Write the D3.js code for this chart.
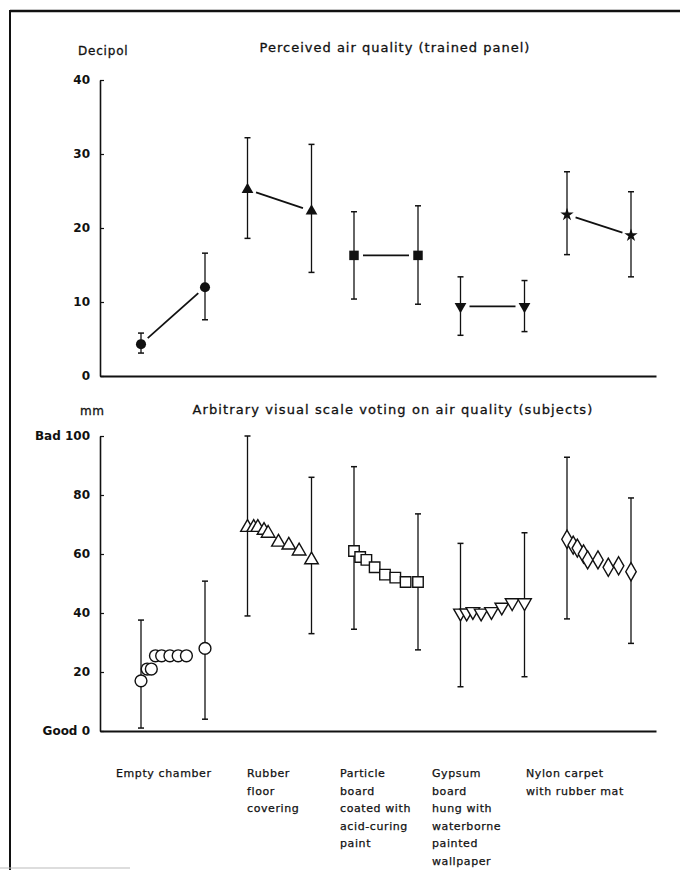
<!DOCTYPE html>
<html>
<head>
<meta charset="utf-8">
<script src="https://cdn.jsdelivr.net/npm/d3@7"></script>
<style>
  body { margin: 0; background: #fff; }
  svg text { font-family: "DejaVu Sans", sans-serif; fill: #111; }
</style>
</head>
<body>
<svg id="chart" width="680" height="879"></svg>
<script>
// Materials tested in the chamber
var categories = ["Empty chamber", "Rubber floor covering", "Particle board coated with acid-curing paint",
                  "Gypsum board hung with waterborne painted wallpaper", "Nylon carpet with rubber mat"];
var categoryLines = [["Empty chamber"], ["Rubber", "floor", "covering"],
                     ["Particle", "board", "coated with", "acid-curing", "paint"],
                     ["Gypsum", "board", "hung with", "waterborne", "painted", "wallpaper"],
                     ["Nylon carpet", "with rubber mat"]];

// Trained panel, decipol (first and last session)
var panelTimes = [0, 31];
var panelMean = [[4.3, 12.0], [25.2, 22.3], [16.3, 16.3], [9.4, 9.4], [21.8, 19.0]];
var panelLow  = [[3.1, 7.6], [18.6, 14.0], [10.4, 9.7], [5.5, 6.0], [16.4, 13.4]];
var panelHigh = [[5.8, 16.6], [32.2, 31.3], [22.2, 23.0], [13.4, 12.9], [27.6, 24.9]];

// Subjects, visual scale in mm
var voteTimes = [[0, 3, 5, 7, 10, 14, 18, 22, 31],
                 [0, 3, 5, 8, 10, 15, 20, 25, 31],
                 [0, 3, 6, 10, 15, 20, 25, 31],
                 [0, 3, 6, 10, 15, 20, 25, 31],
                 [0, 3, 5, 8, 10, 15, 20, 25, 31]];
var voteValues = [[17, 21, 21, 25.5, 25.5, 25.5, 25.5, 25.5, 28],
                  [69, 69, 69, 68, 67, 64, 63, 61, 58],
                  [61, 59, 58, 55.5, 53, 52, 50.5, 50.5],
                  [40, 40, 40.5, 40, 40.5, 42, 43.5, 43.5],
                  [65, 63, 62, 60, 58, 58, 55.5, 56, 54]];
var voteLow  = [[1, 4], [39, 33], [34.5, 27.5], [15, 18.4], [38, 29.7]];
var voteHigh = [[37.6, 50.8], [100, 86], [89.6, 73.6], [63.6, 67.2], [92.8, 79]];

var panelTicks = [0, 10, 20, 30, 40];
var voteTicks = [0, 20, 40, 60, 80, 100];
var voteTickLabels = ["Good 0", "20", "40", "60", "80", "Bad 100"];

var svg = d3.select("#chart");
var ink = "#111";

//Frame of the scanned figure
svg.append("line").attr("x1", 10).attr("y1", 11).attr("x2", 680).attr("y2", 11)
   .attr("stroke", ink).attr("stroke-width", 2.5);
svg.append("line").attr("x1", 10).attr("y1", 10).attr("x2", 10).attr("y2", 870)
   .attr("stroke", ink).attr("stroke-width", 2);
svg.append("line").attr("x1", 0).attr("y1", 868).attr("x2", 130).attr("y2", 868)
   .attr("stroke", "#bbb").attr("stroke-width", 1);

//Scales
var groupX = d3.scaleBand().domain(categories).range([141, 141 + 5 * 106.5]);
var timeX = d3.scaleLinear().domain([0, 31]).range([0, 64]);
var axisX = d3.scaleLinear().range([100, 656]);
var yTop = d3.scaleLinear().domain([0, 40]).range([376, 80]);
var yBot = d3.scaleLinear().domain([0, 100]).range([731, 436]);
var labelX = d3.scaleOrdinal().domain(categories).range([116, 247, 340, 432, 526]);

function px(i, t) { return groupX(categories[i]) + timeX(t); }

var filledShapes = [d3.symbolCircle, d3.symbolTriangle, d3.symbolSquare, d3.symbolTriangle, d3.symbolStar];
var filledSizes = [80, 60, 90, 60, 55];
var openShapes = [d3.symbolCircle, d3.symbolTriangle, d3.symbolSquare, d3.symbolTriangle, d3.symbolDiamond];
var openSizes = [110, 80, 110, 80, 95];
var flipped = [false, false, false, true, false];

//Draws one panel's y axis
function drawYAxis(scale, ticks, fmt) {
  var axis = d3.axisLeft(scale).tickValues(ticks).tickSizeInner(-4).tickSizeOuter(0)
               .tickPadding(10).tickFormat(fmt);
  var g = svg.append("g").attr("transform", "translate(100,0)").call(axis);
  g.select(".domain").attr("stroke", ink).attr("stroke-width", 1.6);
  g.selectAll(".tick line").attr("stroke", ink).attr("stroke-width", 1.2);
  g.selectAll(".tick text").style("font-size", "12px").style("font-weight", "bold")
   .style("font-family", "DejaVu Sans, sans-serif").attr("fill", ink);
  return g;
}

function drawXAxis(y) {
  var g = svg.append("g").attr("transform", "translate(0," + y + ")")
             .call(d3.axisBottom(axisX).tickValues([]).tickSizeOuter(0));
  g.select(".domain").attr("stroke", ink).attr("stroke-width", 2);
}

drawYAxis(yTop, panelTicks, d3.format("d"));
drawXAxis(376);
drawYAxis(yBot, voteTicks, function(d, i) { return voteTickLabels[i]; });
drawXAxis(731);

//Titles
function label(x, y, txt, anchor, size, spacing) {
  svg.append("text").attr("x", x).attr("y", y).attr("text-anchor", anchor || "start")
     .style("font-size", (size || 12) + "px").style("letter-spacing", (spacing || 0) + "px")
     .style("stroke", ink).style("stroke-width", 0.3).text(txt);
}
label(78, 55, "Decipol", "start", 12, 0.8);
label(395, 52, "Perceived air quality (trained panel)", "middle", 13, 1.0);
label(80, 415, "mm", "start", 12, 0.5);
label(393, 414, "Arbitrary visual scale voting on air quality (subjects)", "middle", 13, 1.1);

//Error bar with caps
function errorBar(g, x, y1, y2) {
  g.append("line").attr("x1", x).attr("x2", x).attr("y1", y1).attr("y2", y2)
   .attr("stroke", ink).attr("stroke-width", 1.3);
  [y1, y2].forEach(function(y) {
    g.append("line").attr("x1", x - 3).attr("x2", x + 3).attr("y1", y).attr("y2", y)
     .attr("stroke", ink).attr("stroke-width", 1.5);
  });
}

//Top panel
var topG = svg.append("g");
categories.forEach(function(cat, i) {
  var pts = panelTimes.map(function(t, j) { return [px(i, t), yTop(panelMean[i][j])]; });
  panelTimes.forEach(function(t, j) {
    errorBar(topG, px(i, t), yTop(panelLow[i][j]), yTop(panelHigh[i][j]));
  });
  //connecting line with a gap at each marker
  var dx = pts[1][0] - pts[0][0], dy = pts[1][1] - pts[0][1];
  var len = Math.sqrt(dx * dx + dy * dy), gap = 9;
  topG.append("line")
      .attr("x1", pts[0][0] + dx * gap / len).attr("y1", pts[0][1] + dy * gap / len)
      .attr("x2", pts[1][0] - dx * gap / len).attr("y2", pts[1][1] - dy * gap / len)
      .attr("stroke", ink).attr("stroke-width", 1.8);
  pts.forEach(function(p) {
    topG.append("path")
        .attr("d", d3.symbol().type(filledShapes[i]).size(filledSizes[i])())
        .attr("transform", "translate(" + p[0] + "," + p[1] + ")" + (flipped[i] ? " rotate(180)" : ""))
        .attr("fill", ink);
  });
});

//Bottom panel
var botG = svg.append("g");
categories.forEach(function(cat, i) {
  var times = voteTimes[i];
  var ends = [times[0], times[times.length - 1]];
  ends.forEach(function(t, j) {
    errorBar(botG, px(i, t), yBot(voteLow[i][j]), yBot(voteHigh[i][j]));
  });
  times.forEach(function(t, k) {
    botG.append("path")
        .attr("d", d3.symbol().type(openShapes[i]).size(openSizes[i])())
        .attr("transform", "translate(" + px(i, t) + "," + yBot(voteValues[i][k]) + ")" + (flipped[i] ? " rotate(180)" : ""))
        .attr("fill", "#fff").attr("stroke", ink).attr("stroke-width", 1.4);
  });
});

//Category labels under the lower axis
categories.forEach(function(cat, i) {
  var t = svg.append("text").attr("x", labelX(cat)).attr("y", 777)
             .style("font-size", "11px").style("letter-spacing", "0.6px")
             .style("stroke", ink).style("stroke-width", 0.25);
  categoryLines[i].forEach(function(line, k) {
    t.append("tspan").attr("x", labelX(cat)).attr("dy", k == 0 ? 0 : 17.5).text(line);
  });
});
</script>
</body>
</html>
